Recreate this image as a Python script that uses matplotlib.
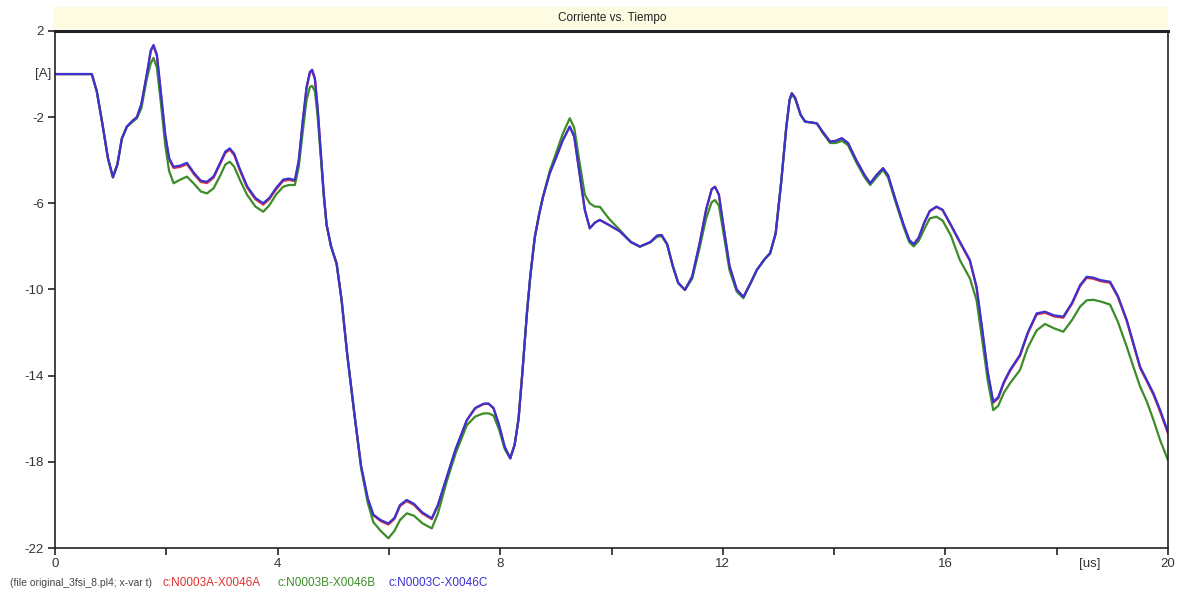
"""Corriente vs. Tiempo: three phase currents from an ATP .pl4 file."""
import matplotlib
matplotlib.use("Agg")
import matplotlib.pyplot as plt
from matplotlib.patches import Rectangle

plt.rcParams['font.family'] = ['Liberation Sans', 'DejaVu Sans']

# time [us]
t = [0.0, 0.66, 0.75, 0.85, 0.95, 1.04, 1.12, 1.20, 1.29, 1.40, 1.47, 1.55, 1.65, 1.72, 1.77, 1.83,
     1.90, 1.98, 2.05, 2.13, 2.25, 2.37, 2.50, 2.62, 2.73, 2.85, 2.97, 3.06, 3.14, 3.22, 3.32, 3.45,
     3.60, 3.74, 3.85, 3.97, 4.10, 4.20, 4.31, 4.38, 4.45, 4.52, 4.58, 4.62, 4.67, 4.72, 4.78, 4.83,
     4.88, 4.96, 5.06, 5.15, 5.25, 5.39, 5.50, 5.62, 5.72, 5.85, 5.99, 6.10, 6.20, 6.32, 6.45, 6.60,
     6.77, 6.88, 7.04, 7.20, 7.40, 7.55, 7.70, 7.79, 7.88, 7.98, 8.08, 8.18, 8.26, 8.33, 8.40, 8.48,
     8.54, 8.62, 8.70, 8.77, 8.89, 9.00, 9.12, 9.25, 9.33, 9.42, 9.52, 9.61, 9.70, 9.79, 9.95, 10.15,
     10.35, 10.51, 10.70, 10.82, 10.90, 11.00, 11.10, 11.20, 11.32, 11.45, 11.58, 11.70, 11.80, 11.86,
     11.93, 12.02, 12.12, 12.25, 12.37, 12.50, 12.61, 12.75, 12.85, 12.95, 13.05, 13.14, 13.20, 13.24,
     13.30, 13.40, 13.48, 13.60, 13.69, 13.80, 13.93, 14.03, 14.14, 14.25, 14.40, 14.55, 14.65, 14.76,
     14.88, 14.97, 15.10, 15.25, 15.35, 15.43, 15.52, 15.62, 15.72, 15.84, 15.95, 16.10, 16.26, 16.44,
     16.56, 16.66, 16.76, 16.86, 16.95, 17.05, 17.16, 17.34, 17.48, 17.64, 17.79, 17.95, 18.12, 18.28,
     18.42, 18.54, 18.66, 18.78, 18.96, 19.10, 19.26, 19.38, 19.50, 19.62, 19.74, 19.86, 20.0]

# c:N0003C-X0046C (blue)
ic = [0.0, 0.0, -0.8, -2.3, -3.9, -4.78, -4.2, -3.0, -2.44, -2.15, -2.0, -1.4, 0.0, 1.1, 1.35, 0.9,
      -0.8, -2.8, -3.9, -4.3, -4.25, -4.12, -4.6, -4.95, -5.0, -4.75, -4.1, -3.6, -3.45, -3.7, -4.4, -5.2,
      -5.75, -6.0, -5.75, -5.3, -4.9, -4.85, -4.92, -4.0, -2.2, -0.6, 0.1, 0.2, -0.2, -1.6, -3.8, -5.6,
      -7.0, -8.0, -8.8, -10.5, -13.0, -16.0, -18.2, -19.7, -20.45, -20.7, -20.86, -20.6, -20.0, -19.77, -19.95, -20.35,
      -20.62, -20.0, -18.7, -17.4, -16.06, -15.5, -15.3, -15.29, -15.5, -16.3, -17.3, -17.84, -17.2, -16.0, -13.8, -11.1,
      -9.4, -7.6, -6.5, -5.69, -4.6, -3.9, -3.1, -2.44, -2.9, -4.5, -6.3, -7.16, -6.9, -6.77, -7.0, -7.3,
      -7.8, -8.01, -7.8, -7.5, -7.47, -7.9, -8.9, -9.7, -10.02, -9.4, -7.9, -6.3, -5.35, -5.23,
      -5.6, -7.2, -8.9, -10.0, -10.35, -9.7, -9.1, -8.6, -8.32, -7.4, -5.0, -2.5, -1.2, -0.89,
      -1.1, -1.9, -2.21, -2.25, -2.29, -2.7, -3.14, -3.1, -2.98, -3.2, -4.0, -4.7, -5.07, -4.7,
      -4.37, -4.7, -5.8, -7.0, -7.7, -7.9, -7.6, -6.9, -6.35, -6.15, -6.3, -7.0, -7.78, -8.63,
      -9.87, -11.8, -13.8, -15.21, -15.0, -14.3, -13.74, -13.04, -12.0, -11.11, -11.03, -11.2, -11.26, -10.6,
      -9.8, -9.41, -9.45, -9.56, -9.64, -10.3, -11.42, -12.5, -13.59, -14.2, -14.82, -15.6, -16.6]

# c:N0003A-X0046A (red, almost hidden under blue)
ia = [0.0, 0.0, -0.8, -2.3, -3.9, -4.8, -4.2, -3.0, -2.45, -2.16, -2.01, -1.42, -0.02, 1.06, 1.3, 0.85,
      -0.85, -2.85, -3.96, -4.36, -4.31, -4.18, -4.66, -5.01, -5.06, -4.81, -4.16, -3.66, -3.51, -3.76, -4.46, -5.26,
      -5.81, -6.06, -5.81, -5.36, -4.96, -4.91, -4.97, -4.05, -2.25, -0.65, 0.05, 0.15, -0.25, -1.65, -3.85, -5.6,
      -7.0, -8.0, -8.8, -10.5, -13.0, -16.0, -18.2, -19.73, -20.48, -20.75, -20.91, -20.65, -20.05, -19.82, -20.0, -20.4,
      -20.66, -20.04, -18.72, -17.42, -16.08, -15.52, -15.32, -15.31, -15.52, -16.3, -17.3, -17.84, -17.2, -16.0, -13.8, -11.1,
      -9.4, -7.6, -6.5, -5.69, -4.6, -3.9, -3.1, -2.44, -2.9, -4.5, -6.3, -7.16, -6.9, -6.77, -7.0, -7.3,
      -7.8, -8.01, -7.8, -7.5, -7.47, -7.9, -8.9, -9.7, -10.02, -9.4, -7.9, -6.3, -5.35, -5.23,
      -5.6, -7.2, -8.9, -10.0, -10.35, -9.7, -9.1, -8.6, -8.32, -7.4, -5.0, -2.5, -1.2, -0.89,
      -1.1, -1.9, -2.21, -2.25, -2.29, -2.7, -3.14, -3.1, -2.98, -3.2, -4.0, -4.7, -5.07, -4.7,
      -4.37, -4.7, -5.8, -7.0, -7.7, -7.9, -7.6, -6.9, -6.37, -6.17, -6.32, -7.03, -7.82, -8.67,
      -9.91, -11.85, -13.85, -15.26, -15.05, -14.35, -13.79, -13.09, -12.05, -11.16, -11.08, -11.25, -11.31, -10.65,
      -9.85, -9.46, -9.5, -9.61, -9.69, -10.35, -11.47, -12.56, -13.65, -14.26, -14.89, -15.68, -16.68]

# c:N0003B-X0046B (green)
ib = [0.0, 0.0, -0.8, -2.3, -3.9, -4.8, -4.2, -3.0, -2.45, -2.2, -2.05, -1.6, -0.2, 0.5, 0.75, 0.3,
      -1.3, -3.3, -4.5, -5.07, -4.9, -4.76, -5.1, -5.45, -5.54, -5.3, -4.7, -4.2, -4.07, -4.3, -4.9, -5.6,
      -6.15, -6.39, -6.1, -5.6, -5.23, -5.15, -5.15, -4.3, -2.7, -1.2, -0.6, -0.55, -0.8, -2.0, -4.0, -5.7,
      -7.0, -8.0, -8.8, -10.5, -13.0, -16.0, -18.3, -19.9, -20.8, -21.2, -21.55, -21.2, -20.7, -20.39, -20.5, -20.85,
      -21.09, -20.4, -18.9, -17.6, -16.3, -15.9, -15.75, -15.75, -15.85, -16.5, -17.4, -17.84, -17.2, -16.0, -13.8, -11.1,
      -9.4, -7.6, -6.5, -5.69, -4.5, -3.7, -2.8, -2.05, -2.5, -4.0, -5.6, -6.0, -6.15, -6.16, -6.7, -7.24,
      -7.8, -8.01, -7.8, -7.55, -7.52, -7.9, -8.9, -9.7, -10.02, -9.5, -8.1, -6.7, -5.95, -5.85,
      -6.1, -7.5, -9.1, -10.1, -10.4, -9.7, -9.1, -8.6, -8.32, -7.4, -5.0, -2.5, -1.2, -0.95,
      -1.15, -1.9, -2.21, -2.25, -2.29, -2.75, -3.2, -3.2, -3.1, -3.3, -4.1, -4.8, -5.15, -4.8,
      -4.45, -4.8, -5.9, -7.1, -7.8, -8.0, -7.75, -7.2, -6.7, -6.62, -6.8, -7.5, -8.63, -9.48,
      -10.49, -12.3, -14.2, -15.6, -15.4, -14.8, -14.36, -13.74, -12.7, -11.9, -11.6, -11.8, -11.96, -11.4,
      -10.8, -10.5, -10.48, -10.55, -10.7, -11.5, -12.66, -13.6, -14.51, -15.2, -16.06, -17.0, -17.92]

y_ticks = [2, -2, -6, -10, -14, -18, -22]
x_ticks = [0, 2, 4, 6, 8, 10, 12, 14, 16, 18, 20]
x_labels = ['0', '', '4', '', '8', '', '12', '', '16', '', '20']

file_note = '(file original_3fsi_8.pl4; x-var t)'
series_names = ['c:N0003A-X0046A', 'c:N0003B-X0046B', 'c:N0003C-X0046C']
colors = ['#e03232', '#3c8c28', '#3a32d2']

fig = plt.figure(figsize=(11.89, 5.98), dpi=100)
ax = fig.add_axes([0.0463, 0.0836, 0.936, 0.8646])

for ys, c in zip([ia, ib, ic], colors):
    ax.plot(t, ys, color=c, linewidth=1.6, solid_joinstyle='round')

ax.set_xlim(0, 20)
ax.set_ylim(-22, 2)
ax.set_yticks(y_ticks)
ax.set_yticklabels([str(v) for v in y_ticks])
ax.set_xticks(x_ticks)
ax.set_xticklabels(x_labels)
ax.tick_params(axis='both', direction='out', length=5, width=1.2, labelsize=9.5,
               colors='#222222', labelcolor='#333333')
ax.tick_params(axis='x', pad=2)
ax.tick_params(axis='y', pad=3)
for s in ax.spines.values():
    s.set_color('#222222')
    s.set_linewidth(1.2)
ax.spines['top'].set_linewidth(2.2)

# unit labels
ax.text(-0.003, 0.0, '[A]', transform=ax.get_yaxis_transform(), ha='right', va='center',
        fontsize=9.5, color='#333333')
ax.text(18.6, -0.02, '[us]', transform=ax.get_xaxis_transform(), ha='center', va='top',
        fontsize=9.5, color='#333333')

# title bar
fig.patches.append(Rectangle((0.0445, 0.9515), 0.938, 0.036, transform=fig.transFigure,
                             facecolor='#fdfbe2', edgecolor='none', zorder=0))
fig.text(0.515, 0.9705, 'Corriente vs. Tiempo', ha='center', va='center', fontsize=8.5, color='#222222')

# bottom legend line
fig.text(0.008, 0.025, file_note, ha='left', va='center', fontsize=7.5, color='#444444')
for x0, name, c in zip([0.137, 0.2335, 0.327], series_names, colors):
    fig.text(x0, 0.025, name, ha='left', va='center', fontsize=8.5, color=c)

fig.savefig('out.png', dpi=100)
